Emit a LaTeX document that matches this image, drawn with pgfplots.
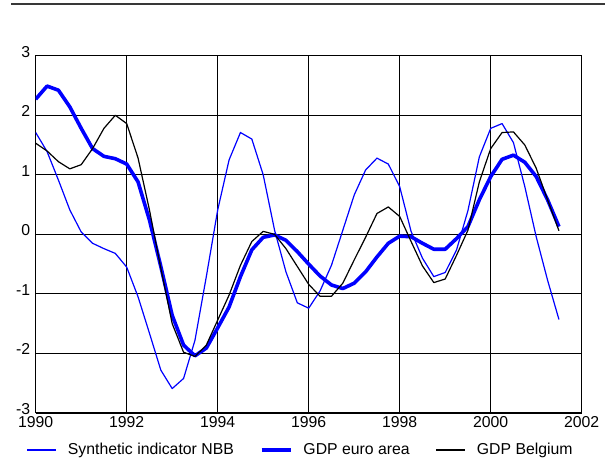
\documentclass[border=0pt]{standalone}
\usepackage{fontspec}
\setmainfont{Liberation Sans}
\usepackage{pgfplots}
\pgfplotsset{compat=1.18}
\begin{document}
\begin{tikzpicture}
\path[use as bounding box] (-35.7pt,-49pt) rectangle (569.3pt,413pt);
\draw[line width=1.2pt, black!78] (-24.7pt,409pt) -- (569.3pt,409pt);
\begin{axis}[
  scale only axis, width=546pt, height=357.3pt,
  xmin=1990, xmax=2002, ymin=-3, ymax=3,
  xtick={1990,1992,...,2002}, ytick={-3,-2,...,3},
  grid=major, major grid style={black, line width=0.8pt},
  axis line style={line width=1pt},
  major tick length=0pt,
  /pgf/number format/assume math mode=true,
  /pgf/number format/1000 sep={},
  tick label style={font=\fontsize{15.8}{18}\selectfont},
  yticklabel style={yshift=4pt, xshift=-2pt},
  legend columns=3,
  legend style={draw=none, fill=none, at={(0.4853,-0.1036)}, anchor=center,
    font=\fontsize{15.8}{18}\selectfont,
    /tikz/every odd column/.append style={column sep=9pt},
    /tikz/every even column/.append style={column sep=24pt}},
  legend image code/.code={\draw[#1] (0pt,0pt) -- (29pt,0pt);},
  every axis plot/.append style={no marks, line join=round},
]
\addplot[blue, line width=1.2pt] coordinates {
(1990.00,1.71) (1990.25,1.39) (1990.50,0.91) (1990.75,0.41)
(1991.00,0.04) (1991.25,-0.15) (1991.50,-0.24) (1991.75,-0.32)
(1992.00,-0.55) (1992.25,-1.05) (1992.50,-1.66) (1992.75,-2.28)
(1993.00,-2.59) (1993.25,-2.42) (1993.50,-1.78) (1993.75,-0.71)
(1994.00,0.41) (1994.25,1.25) (1994.50,1.71) (1994.75,1.60)
(1995.00,1.00) (1995.25,0.07) (1995.50,-0.63) (1995.75,-1.15)
(1996.00,-1.24) (1996.25,-0.95) (1996.50,-0.52) (1996.75,0.07)
(1997.00,0.66) (1997.25,1.08) (1997.50,1.28) (1997.75,1.18)
(1998.00,0.80) (1998.25,0.05) (1998.50,-0.40) (1998.75,-0.71)
(1999.00,-0.64) (1999.25,-0.26) (1999.50,0.40) (1999.75,1.30)
(2000.00,1.78) (2000.25,1.86) (2000.50,1.54) (2000.75,0.80)
(2001.00,-0.04) (2001.25,-0.77) (2001.50,-1.43)
};
\addlegendentry{Synthetic indicator NBB}
\addplot[blue, line width=3.6pt] coordinates {
(1990.00,2.27) (1990.25,2.49) (1990.50,2.42) (1990.75,2.14)
(1991.00,1.78) (1991.25,1.44) (1991.50,1.31) (1991.75,1.27)
(1992.00,1.18) (1992.25,0.88) (1992.50,0.24) (1992.75,-0.54)
(1993.00,-1.36) (1993.25,-1.86) (1993.50,-2.04) (1993.75,-1.91)
(1994.00,-1.57) (1994.25,-1.22) (1994.50,-0.71) (1994.75,-0.26)
(1995.00,-0.05) (1995.25,-0.01) (1995.50,-0.10) (1995.75,-0.29)
(1996.00,-0.50) (1996.25,-0.70) (1996.50,-0.85) (1996.75,-0.91)
(1997.00,-0.82) (1997.25,-0.63) (1997.50,-0.38) (1997.75,-0.15)
(1998.00,-0.03) (1998.25,-0.04) (1998.50,-0.15) (1998.75,-0.25)
(1999.00,-0.25) (1999.25,-0.07) (1999.50,0.13) (1999.75,0.58)
(2000.00,0.97) (2000.25,1.26) (2000.50,1.33) (2000.75,1.21)
(2001.00,0.97) (2001.25,0.58) (2001.50,0.13)
};
\addlegendentry{GDP euro area}
\addplot[black, line width=1.2pt] coordinates {
(1990.00,1.53) (1990.25,1.40) (1990.50,1.22) (1990.75,1.10)
(1991.00,1.17) (1991.25,1.44) (1991.50,1.78) (1991.75,2.00)
(1992.00,1.86) (1992.25,1.28) (1992.50,0.41) (1992.75,-0.57)
(1993.00,-1.50) (1993.25,-1.98) (1993.50,-2.05) (1993.75,-1.86)
(1994.00,-1.44) (1994.25,-1.02) (1994.50,-0.52) (1994.75,-0.12)
(1995.00,0.05) (1995.25,0.00) (1995.50,-0.24) (1995.75,-0.54)
(1996.00,-0.84) (1996.25,-1.04) (1996.50,-1.04) (1996.75,-0.82)
(1997.00,-0.43) (1997.25,-0.05) (1997.50,0.35) (1997.75,0.46)
(1998.00,0.30) (1998.25,-0.12) (1998.50,-0.53) (1998.75,-0.81)
(1999.00,-0.75) (1999.25,-0.35) (1999.50,0.07) (1999.75,0.88)
(2000.00,1.44) (2000.25,1.71) (2000.50,1.72) (2000.75,1.50)
(2001.00,1.11) (2001.25,0.58) (2001.50,0.06)
};
\addlegendentry{GDP Belgium}
\end{axis}
\end{tikzpicture}
\end{document}
